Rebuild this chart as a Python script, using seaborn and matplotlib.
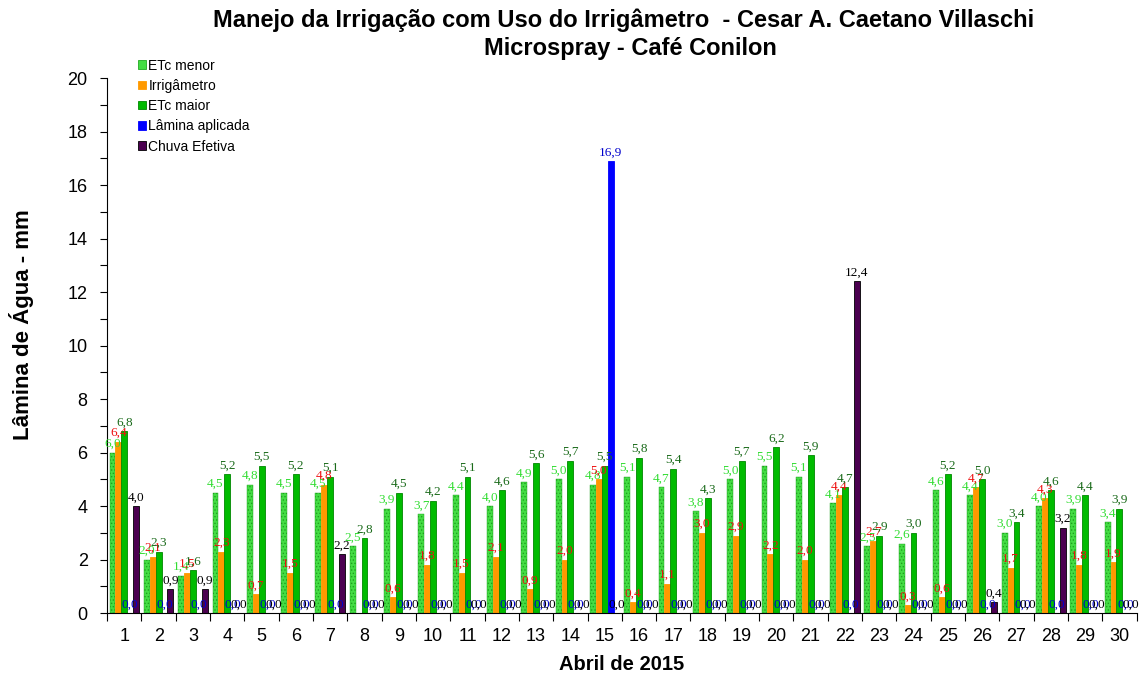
import numpy as np
import pandas as pd
import matplotlib
matplotlib.use('Agg')
import matplotlib.pyplot as plt
import matplotlib.ticker as ticker
from matplotlib.patches import Patch
import seaborn as sns

# dados - abril de 2015
dias = [str(d) for d in range(1, 31)]
etc_menor = [6.0, 2.0, 1.4, 4.5, 4.8, 4.5, 4.5, 2.5, 3.9, 3.7,
             4.4, 4.0, 4.9, 5.0, 4.8, 5.1, 4.7, 3.8, 5.0, 5.5,
             5.1, 4.1, 2.5, 2.6, 4.6, 4.4, 3.0, 4.0, 3.9, 3.4]
irrigametro = [6.4, 2.1, 1.5, 2.3, 0.7, 1.5, 4.8, np.nan, 0.6, 1.8,
               1.5, 2.1, 0.9, 2.0, 5.0, 0.4, 1.1, 3.0, 2.9, 2.2,
               2.0, 4.4, 2.7, 0.3, 0.6, 4.7, 1.7, 4.3, 1.8, 1.9]
etc_maior = [6.8, 2.3, 1.6, 5.2, 5.5, 5.2, 5.1, 2.8, 4.5, 4.2,
             5.1, 4.6, 5.6, 5.7, 5.5, 5.8, 5.4, 4.3, 5.7, 6.2,
             5.9, 4.7, 2.9, 3.0, 5.2, 5.0, 3.4, 4.6, 4.4, 3.9]
lamina = [0.0, 0.0, 0.0, 0.0, 0.0, 0.0, 0.0, 0.0, 0.0, 0.0,
          0.0, 0.0, 0.0, 0.0, 16.9, 0.0, 0.0, 0.0, 0.0, 0.0,
          0.0, 0.0, 0.0, 0.0, 0.0, 0.0, 0.0, 0.0, 0.0, 0.0]
chuva = [4.0, 0.9, 0.9, 0.0, 0.0, 0.0, 2.2, 0.0, 0.0, 0.0,
         0.0, 0.0, 0.0, 0.0, 0.0, 0.0, 0.0, 0.0, 0.0, 0.0,
         0.0, 12.4, 0.0, 0.0, 0.0, 0.4, 0.0, 3.2, 0.0, 0.0]

series = ['ETc menor', 'Irrigâmetro', 'ETc maior', 'Lâmina aplicada', 'Chuva Efetiva']
cores = ['#44DD44', '#FF9900', '#00BB00', '#0000FF', '#4B0050']
cores_bordas = ['#22AA22', '#FF9900', '#008800', '#0000FF', '#000000']
cores_rotulos = ['#33DD33', '#EE1111', '#1B6B1B', '#0000CC', '#000000']

# tabela longa para o seaborn
valores = [etc_menor, irrigametro, etc_maior, lamina, chuva]
df = pd.DataFrame({
    'Dia': dias * len(series),
    'Serie': np.repeat(series, len(dias)),
    'Valor': np.concatenate(valores),
})

sns.set_style('white')
plt.rcParams['font.family'] = ['Liberation Sans', 'DejaVu Sans']
plt.rcParams['hatch.linewidth'] = 0.6
for k in ['text.color', 'axes.labelcolor', 'xtick.color', 'ytick.color']:
    plt.rcParams[k] = 'black'

fig = plt.figure(figsize=(11.4, 6.79), dpi=100)
ax = fig.add_axes([0.094, 0.097, 0.903, 0.788])

sns.barplot(data=df, x='Dia', y='Valor', hue='Serie', order=dias,
            hue_order=series, palette=cores, saturation=1, width=0.86,
            errorbar=None, legend=False, ax=ax)

# bordas, textura e rotulos de cada serie
for i, cont in enumerate(ax.containers):
    for barra in cont:
        barra.set_edgecolor(cores_bordas[i])
        barra.set_linewidth(0.6)
        if i == 0:
            barra.set_hatch('.....')
            barra.set_edgecolor('#1FA01F')
            barra.set_linewidth(0.3)
    rot = []
    for barra in cont:
        h = barra.get_height()
        rot.append('' if np.isnan(h) else f'{h:.1f}'.replace('.', ','))
    ax.bar_label(cont, labels=rot, padding=2, color=cores_rotulos[i],
                 fontsize=9.5, family='Liberation Serif')

ax.set_ylim(0, 20)
ax.set_xlim(-0.5, 29.5)
ax.yaxis.set_major_locator(ticker.MultipleLocator(2))
ax.yaxis.set_minor_locator(ticker.MultipleLocator(1))
ax.set_xticks(np.arange(-0.5, 30, 1), minor=True)
ax.tick_params(axis='x', which='major', length=0, labelsize=13, pad=11)
ax.tick_params(axis='x', which='minor', length=6, width=0.8, direction='out', bottom=True)
ax.tick_params(axis='y', which='both', length=5, width=0.8, direction='out', left=True,
               labelsize=13, pad=9)
sns.despine(ax=ax)
for s in ['left', 'bottom']:
    ax.spines[s].set_color('black')
    ax.spines[s].set_linewidth(0.8)

ax.set_xlabel('Abril de 2015', fontsize=14.5, fontweight='bold', labelpad=7)
ax.set_ylabel('Lâmina de Água - mm', fontsize=16, fontweight='bold')
ax.yaxis.set_label_coords(-0.071, 0.54)

# titulo em duas linhas
fig.text(0.547, 0.970, 'Manejo da Irrigação com Uso do Irrigâmetro  - Cesar A. Caetano Villaschi',
         ha='center', va='center', fontsize=17, fontweight='bold')
fig.text(0.553, 0.929, 'Microspray - Café Conilon',
         ha='center', va='center', fontsize=17, fontweight='bold')

# legenda
alcas = [Patch(facecolor=cores[i], edgecolor=cores_bordas[i], linewidth=0.6) for i in range(len(series))]
fig.legend(alcas, series, loc='upper left', bbox_to_anchor=(0.115, 0.924), frameon=False,
           fontsize=10, handlelength=0.55, handleheight=0.55, handletextpad=0.2,
           labelspacing=0.45, borderpad=0)

fig.savefig('out.png', dpi=100)
